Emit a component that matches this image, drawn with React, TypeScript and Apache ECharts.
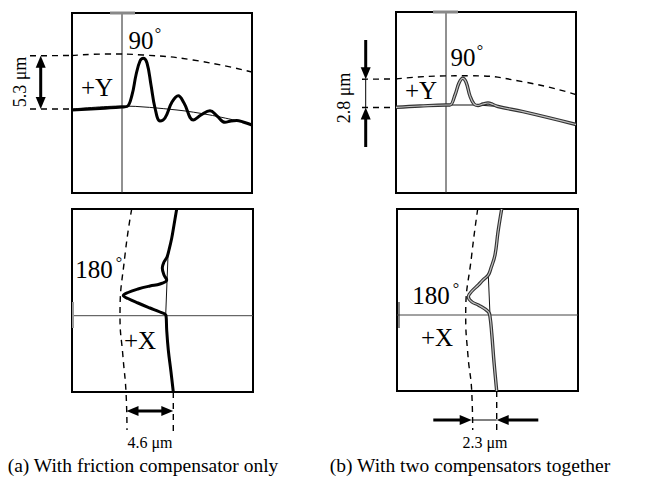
import React, { useEffect, useRef } from "react";
import * as echarts from "echarts";

type P = [number, number];

// ---------- Panel (a) top : +Y, 90 deg (units: um, 10 px per um) ----------
const A_TOP_RESPONSE: P[] = [
  [0, 8.3], [2.8, 8.45], [5, 8.6], [5.5, 8.65], [6.0, 9.8], [6.4, 11.8], [6.8, 13.2],
  [7.13, 13.47], [7.5, 13.0], [7.9, 10.8], [8.3, 8.5], [8.8, 7.2], [9.3, 7.5],
  [10.0, 9.1], [10.63, 9.73], [11.2, 9.0], [12.13, 7.3], [12.9, 7.8], [13.8, 8.23],
  [14.5, 7.7], [15.3, 7.07], [15.9, 7.2], [16.47, 7.25], [17.1, 7.1], [18, 6.8],
];
const A_TOP_BASELINE: P[] = [[0, 8.4], [5, 8.7], [10.5, 8.3], [13.8, 7.8], [18, 6.9]];
const A_TOP_ENVELOPE: P[] = [[0, 13.75], [3.8, 13.9], [7.1, 13.8], [12.1, 13.3], [18, 12.1]];
// dashed guide segments outside the box: [x1, y1, x2, y2]
const A_TOP_GUIDES = [[-4.2, 13.72, 0, 13.75], [-4.2, 8.4, 0, 8.4]];
const A_TOP_AXIS: P[] = [[5, 0], [5, 18]];
const A_TOP_MARK: P[] = [[3.8, 18], [6.3, 18]];
const A_TOP_ARROWS = [[-3.13, 13.72, -3.13, 8.4, 1, 1]];

// ---------- Panel (b) top ----------
const B_TOP_RESPONSE: P[] = [
  [0, 8.57], [2.4, 8.7], [5, 8.8], [5.4, 8.8], [5.9, 9.8], [6.3, 11.0], [6.67, 11.47],
  [7.0, 11.1], [7.4, 9.7], [7.8, 8.9], [8.2, 8.75], [8.7, 8.9], [9.2, 9.0], [9.7, 8.85],
  [10.2, 8.65], [12.7, 8.13], [18, 6.85],
];
const B_TOP_BASELINE: P[] = [[5, 8.8], [8.2, 8.8], [10.2, 8.65]];
const B_TOP_ENVELOPE: P[] = [[0, 11.4], [4.4, 11.7], [7.4, 11.72], [12.7, 11.13], [18, 9.85]];
const B_TOP_GUIDES = [[-3.4, 11.38, 0, 11.4], [-3.4, 8.55, 0, 8.55]];
const B_TOP_AXIS: P[] = [[5, 0], [5, 18.1]];
const B_TOP_MARK: P[] = [[3.7, 18.1], [6.2, 18.1]];
const B_TOP_ARROWS = [[-3.03, 15.3, -3.03, 11.38, 0, 1], [-3.03, 4.6, -3.03, 8.55, 0, 1]];
const B_TOP_GAP = [[-3.03, 8.55, -3.03, 11.38]];

// ---------- Panel (a) bottom : +X, 180 deg ----------
const A_BOT_RESPONSE: P[] = [
  [10.47, 18.3], [10.2, 16.7], [9.97, 15.37], [9.7, 14.2], [9.5, 13.5], [9.2, 13.0],
  [9.03, 12.4], [9.2, 11.7], [9.47, 11.2], [8.8, 10.8], [7.8, 10.6], [6.6, 10.3],
  [5.6, 9.95], [5.13, 9.65], [5.6, 9.35], [6.6, 8.9], [7.8, 8.4], [8.8, 8.0],
  [9.4, 7.65], [9.47, 6.2], [9.63, 4.2], [9.9, 2.0], [10.13, 0],
];
const A_BOT_BASELINE: P[] = [[9.6, 13.6], [9.37, 7.7]];
const A_BOT_ENVELOPE: P[] = [[5.97, 18.3], [5.3, 13.7], [4.8, 7.63], [5.1, 3.5], [5.4, 0], [5.5, -3.8]];
const A_BOT_GUIDES = [[10.13, 0, 10.13, -4.0]];
const A_BOT_AXIS: P[] = [[0, 7.63], [18.1, 7.63]];
const A_BOT_MARK: P[] = [[0.1, 9.0], [0.1, 6.4]];
const A_BOT_ARROWS = [[5.45, -1.9, 10.13, -1.9, 1, 1]];

// ---------- Panel (b) bottom ----------
const B_BOT_RESPONSE: P[] = [
  [10.47, 18.2], [10.1, 15.9], [9.8, 13.6], [9.4, 12.3], [9.13, 11.6], [8.6, 11.1],
  [8.13, 10.6], [7.5, 10.0], [7.13, 9.43], [7.5, 8.9], [8.13, 8.6], [9.13, 7.93],
  [9.3, 7.43], [9.47, 5.8], [9.7, 2.9], [9.97, 0],
];
const B_BOT_BASELINE: P[] = [[9.13, 11.6], [9.3, 7.6]];
const B_BOT_ENVELOPE: P[] = [[8.07, 18.2], [7.47, 13.6], [6.87, 7.6], [7.1, 3.5], [7.47, 0], [7.57, -3.9]];
const B_BOT_GUIDES = [[9.97, 0, 9.97, -3.9]];
const B_BOT_AXIS: P[] = [[0, 7.6], [18.1, 7.6]];
const B_BOT_MARK: P[] = [[0.2, 8.9], [0.2, 6.3]];
const B_BOT_ARROWS = [[3.63, -2.9, 7.47, -2.9, 0, 1], [14.13, -2.9, 9.97, -2.9, 0, 1]];
const B_BOT_GAP = [[7.47, -2.9, 9.97, -2.9]];

// ---------- texts ----------
const CAPTION_A = "(a) With friction compensator only";
const CAPTION_B = "(b) With two compensators together";
const DIM_A_TOP = "5.3 μm";
const DIM_B_TOP = "2.8 μm";
const DIM_A_BOT = "4.6 μm";
const DIM_B_BOT = "2.3 μm";

const SERIF = '"Liberation Serif", "Times New Roman", Times, serif';

const GRIDS = [
  { left: 72, top: 13, width: 180, height: 180, xMax: 18, yMax: 18 },
  { left: 396, top: 12, width: 180, height: 181, xMax: 18, yMax: 18.1 },
  { left: 72, top: 209, width: 181, height: 183, xMax: 18.1, yMax: 18.3 },
  { left: 397, top: 209, width: 181, height: 182, xMax: 18.1, yMax: 18.2 },
];

function line(data: P[], idx: number, color: string, width: number, dashed = false, smooth: number | boolean = false, z = 2): any {
  return {
    type: "line",
    xAxisIndex: idx,
    yAxisIndex: idx,
    data,
    symbol: "none",
    showSymbol: false,
    clip: false,
    smooth,
    silent: true,
    z,
    lineStyle: { color, width, type: dashed ? [6, 5] : "solid", cap: "butt", join: "round" },
  };
}

function segments(data: number[][], idx: number, color: string, width: number, dashed: boolean): any {
  return {
    type: "custom",
    xAxisIndex: idx,
    yAxisIndex: idx,
    data,
    silent: true,
    clip: false,
    z: 2,
    renderItem: (_p: any, api: any) => {
      const a = api.coord([api.value(0), api.value(1)]);
      const b = api.coord([api.value(2), api.value(3)]);
      return {
        type: "line",
        shape: { x1: a[0], y1: a[1], x2: b[0], y2: b[1] },
        style: { stroke: color, lineWidth: width, lineDash: dashed ? [6, 5] : null, fill: null },
      };
    },
  };
}

function arrows(data: number[][], idx: number, width: number): any {
  return {
    type: "custom",
    xAxisIndex: idx,
    yAxisIndex: idx,
    data,
    silent: true,
    clip: false,
    z: 5,
    renderItem: (_p: any, api: any) => {
      const a = api.coord([api.value(0), api.value(1)]);
      const b = api.coord([api.value(2), api.value(3)]);
      const hs = api.value(4);
      const he = api.value(5);
      const dx = b[0] - a[0];
      const dy = b[1] - a[1];
      const len = Math.hypot(dx, dy) || 1;
      const ux = dx / len;
      const uy = dy / len;
      const L = 12;
      const W = 5;
      const head = (t: number[], vx: number, vy: number) => ({
        type: "polygon",
        shape: {
          points: [
            [t[0], t[1]],
            [t[0] - vx * L - vy * W, t[1] - vy * L + vx * W],
            [t[0] - vx * L + vy * W, t[1] - vy * L - vx * W],
          ],
        },
        style: { fill: "#000" },
      });
      const s = hs ? [a[0] + ux * L * 0.7, a[1] + uy * L * 0.7] : a;
      const e = he ? [b[0] - ux * L * 0.7, b[1] - uy * L * 0.7] : b;
      const children: any[] = [
        { type: "line", shape: { x1: s[0], y1: s[1], x2: e[0], y2: e[1] }, style: { stroke: "#000", lineWidth: width } },
      ];
      if (hs) children.push(head(a, -ux, -uy));
      if (he) children.push(head(b, ux, uy));
      return { type: "group", children };
    },
  };
}

function txt(text: string, x: number, y: number, size: number, rotation = 0): any {
  return {
    type: "text",
    x,
    y,
    rotation,
    silent: true,
    style: { text, fontSize: size, fontFamily: SERIF, fill: "#000", align: "center", verticalAlign: "middle" },
  };
}

export default function App() {
  const ref = useRef<HTMLDivElement>(null);
  useEffect(() => {
    if (!ref.current) return;
    const chart = echarts.init(ref.current, undefined, { renderer: "svg" });
    const option: any = {
      animation: false,
      backgroundColor: "#fff",
      grid: GRIDS.map((g) => ({
        left: g.left,
        top: g.top,
        width: g.width,
        height: g.height,
        show: true,
        borderColor: "#000",
        borderWidth: 2,
        backgroundColor: "transparent",
        containLabel: false,
        outerBoundsMode: "none",
      })),
      xAxis: GRIDS.map((g, i) => ({ type: "value", gridIndex: i, min: 0, max: g.xMax, show: false })),
      yAxis: GRIDS.map((g, i) => ({ type: "value", gridIndex: i, min: 0, max: g.yMax, show: false })),
      series: [
        // (a) top
        line(A_TOP_AXIS, 0, "#222", 1),
        line(A_TOP_MARK, 0, "#888", 3),
        line(A_TOP_BASELINE, 0, "#111", 1, false, 0.3),
        line(A_TOP_ENVELOPE, 0, "#000", 1.4, true, 0.5),
        segments(A_TOP_GUIDES, 0, "#000", 1.4, true),
        line(A_TOP_RESPONSE, 0, "#000", 3, false, 0.4, 3),
        arrows(A_TOP_ARROWS, 0, 3),
        // (b) top
        line(B_TOP_AXIS, 1, "#222", 1),
        line(B_TOP_MARK, 1, "#888", 3),
        line(B_TOP_BASELINE, 1, "#111", 1),
        line(B_TOP_ENVELOPE, 1, "#000", 1.4, true, 0.5),
        segments(B_TOP_GUIDES, 1, "#000", 1.4, true),
        line(B_TOP_RESPONSE, 1, "#333", 3.4, false, 0.4, 3),
        line(B_TOP_RESPONSE, 1, "#c0c0c0", 1.2, false, 0.4, 4),
        segments(B_TOP_GAP, 1, "#000", 1, false),
        arrows(B_TOP_ARROWS, 1, 3),
        // (a) bottom
        line(A_BOT_AXIS, 2, "#444", 1),
        line(A_BOT_MARK, 2, "#999", 2),
        line(A_BOT_BASELINE, 2, "#111", 1),
        line(A_BOT_ENVELOPE, 2, "#000", 1.4, true, 0.5),
        segments(A_BOT_GUIDES, 2, "#000", 1.4, true),
        line(A_BOT_RESPONSE, 2, "#000", 3, false, 0.4, 3),
        arrows(A_BOT_ARROWS, 2, 3),
        // (b) bottom
        line(B_BOT_AXIS, 3, "#444", 1),
        line(B_BOT_MARK, 3, "#333", 1.2),
        line(B_BOT_BASELINE, 3, "#111", 1),
        line(B_BOT_ENVELOPE, 3, "#000", 1.4, true, 0.5),
        segments(B_BOT_GUIDES, 3, "#000", 1.4, true),
        line(B_BOT_RESPONSE, 3, "#333", 3.4, false, 0.4, 3),
        line(B_BOT_RESPONSE, 3, "#c0c0c0", 1.2, false, 0.4, 4),
        segments(B_BOT_GAP, 3, "#000", 1, false),
        arrows(B_BOT_ARROWS, 3, 3),
      ],
      graphic: [
        txt(DIM_A_TOP, 20, 82, 18, Math.PI / 2),
        txt(DIM_B_TOP, 344, 98, 18, Math.PI / 2),
        txt("+Y", 97, 87, 25),
        txt("90", 141, 40, 25),
        txt("°", 158, 33, 16),
        txt("+Y", 421, 90, 25),
        txt("90", 463, 57, 25),
        txt("°", 480, 50, 16),
        txt("180", 94, 269, 25),
        txt("°", 119, 262, 16),
        txt("+X", 140, 340, 25),
        txt("180", 431, 295, 25),
        txt("°", 456, 288, 16),
        txt("+X", 437, 337, 25),
        txt(DIM_A_BOT, 150, 442, 16),
        txt(DIM_B_BOT, 485, 442, 16),
        txt(CAPTION_A, 143, 465, 19.5),
        txt(CAPTION_B, 470, 465, 19.5),
      ],
    };
    chart.setOption(option);
    return () => chart.dispose();
  }, []);
  return <div ref={ref} style={{ position: "fixed", left: 0, top: 0, width: 656, height: 480 }} />;
}
